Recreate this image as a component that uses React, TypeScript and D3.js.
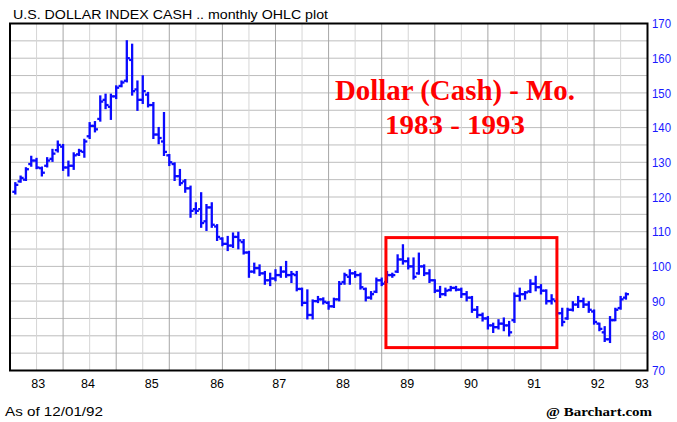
import React from 'react';
import * as d3 from 'd3';

// Monthly OHLC, first bar = May 1983, last bar = Dec 1992 (bar index 0..115)
const opens = [
  121.5, 124.5, 125, 129.5, 130.5, 128.3, 129, 131, 133.5, 134.5, 128.5, 129,
  132.3, 133, 137.5, 140.5, 142.5, 148, 146, 149, 152, 153.5, 159.5, 151,
  148, 149.5, 146.5, 138, 136, 132, 129.5, 126, 124.5, 122.5, 116.5, 116.5,
  113, 117, 111.5, 108, 106.5, 106, 108.5, 107, 104, 98.5, 99.5, 98,
  96, 96.5, 97.5, 98.5, 97.5, 97.5, 93.5, 89.5, 86, 90, 90.5, 89.5,
  88.5, 90.5, 95.5, 97, 98, 97.5, 93.5, 91, 92.7, 96, 95.5, 97.5,
  98.5, 102, 101.5, 100, 98, 100, 98, 96, 93, 92, 93.2, 93.8,
  93.3, 92, 91, 87.5, 86, 85, 83, 82.5, 83.5, 83, 84.5, 91.5,
  92, 92.8, 95, 94, 93, 90, 90, 86.5, 85, 87.5, 89, 90,
  89, 87, 83.5, 81, 79, 84.5, 88, 91,
];
const highs = [
  124, 125.9, 128.3, 131.6, 131, 128.5, 131.2, 133.6, 136, 135, 130.2, 132.6,
  133.6, 136.5, 141.3, 141.6, 149, 149.5, 149.5, 151.9, 153.3, 164.9, 163.9, 153.3,
  154.8, 150, 147.1, 139.9, 144.2, 132.1, 129.7, 127.8, 124.9, 123, 118.2, 121.1,
  117.7, 118.2, 111.9, 108.1, 108.5, 109.5, 109.7, 107.6, 104.2, 100.8, 100.3, 98.4,
  97.9, 98.9, 99.8, 101.3, 98.4, 98.4, 93.6, 93.1, 90.2, 91.2, 90.8, 89.7,
  90.7, 95.5, 97.9, 98.9, 98.4, 97.9, 93.6, 92.6, 96.5, 96.5, 98.4, 97.9,
  103.2, 106.1, 102.3, 102.3, 103.7, 100.3, 98.9, 96, 94.1, 93.6, 94.1, 94.1,
  93.6, 92.6, 91.2, 88.3, 86.4, 85.4, 83.5, 84.5, 85, 84, 92.2, 93.6,
  92.6, 96, 97, 94.6, 93.1, 91.7, 90.2, 87.8, 87.8, 89.7, 91.2, 90.7,
  89.7, 87.3, 83.5, 82.5, 85.4, 87.8, 91.2, 92.2,
];
const lows = [
  121, 124.4, 124.9, 129, 128.3, 126.2, 128.8, 130.4, 133.1, 127.8, 126.2, 128.1,
  132.1, 131.6, 137, 138.9, 142, 145.6, 142.5, 148.5, 151.9, 153.3, 149.5, 145.1,
  147.1, 146.1, 137, 135.5, 132.1, 129.2, 124.9, 123.5, 121.5, 114.3, 115.3, 111.4,
  110.5, 111.4, 107.6, 106.1, 104.7, 105.6, 105.2, 103.7, 97, 98.2, 97.5, 95,
  94.6, 96, 97, 97, 95.5, 93.1, 88.8, 85, 85, 89.7, 89.3, 87.8,
  88.3, 90.2, 95, 95, 97, 93.6, 90.2, 90.7, 92.6, 94.6, 95.5, 97,
  98.4, 100.8, 99.4, 96.5, 97.9, 97.5, 95.5, 92.6, 91.2, 91.7, 93.1, 93.1,
  91.2, 90.2, 86.9, 85.4, 84.4, 82.1, 81.1, 82.1, 81.6, 80.1, 84, 90.2,
  90.7, 92.6, 93.1, 92.2, 89.3, 89.3, 85.9, 83, 84.9, 87.3, 88.3, 88.3,
  86.9, 83.5, 81.6, 78.5, 78.2, 84.5, 87.8, 90.7,
];
const closes = [
  123.5, 125.5, 128, 130.5, 128.5, 127, 130.5, 132.5, 135, 128.5, 129, 132,
  133.3, 136, 140.5, 139.5, 147.5, 146.5, 149, 151.5, 153, 160, 150.5, 148,
  150.5, 146.5, 138, 137, 133, 130, 126, 124, 122.5, 116, 116, 112.5,
  117, 112, 108.5, 106.5, 106, 108.5, 107.5, 104, 98.5, 99.5, 98, 96,
  96.5, 97.5, 98.5, 97.5, 97.8, 93.5, 89.5, 86, 90, 90.5, 89.8, 88.5,
  90.5, 95, 97.5, 98, 97.5, 94, 91, 92, 96, 95, 97.5, 97.5,
  102, 101.5, 100, 97, 100, 98, 96, 93, 92, 93, 93.8, 93.3,
  92, 91, 87.5, 86, 85, 83, 82.5, 83.5, 83, 81, 91.5, 92,
  92.5, 95, 94, 93, 90, 90.5, 86.5, 84, 87.5, 89, 90, 89,
  87.5, 84, 82, 79, 84.5, 87.5, 90.5, 92,
];

// year labels, placed at bar index (mid-year)
const yearLabels = ['83', '84', '85', '86', '87', '88', '89', '90', '91', '92', '93'];
const yearLabelBars = [4.3, 13.7, 25.7, 38, 49.7, 61.7, 73.8, 85.8, 97.7, 109.7, 118];

const priceTicks = [70, 80, 90, 100, 110, 120, 130, 140, 150, 160, 170];

// highlighted range (bar index / price)
const boxBars = [69.8, 102];
const boxPrices = [76.6, 108.3];

const W = 677;
const H = 422;
const plot = { left: 10, right: 647.5, top: 23.5, bottom: 370.5 };
const BLUE = '#0a0aff';
const RED = '#ff0000';

const App: React.FC = () => {
  const x = d3.scaleLinear().domain([-1, 119.06]).range([plot.left, plot.right]);
  const y = d3.scaleLinear().domain([70, 170]).range([plot.bottom, plot.top]);

  const hGrid = d3.range(75, 170, 5);
  const vGrid = d3.range(4, 119, 5);
  const tick = 3;

  return (
    <svg width={W} height={H} style={{ position: 'absolute', left: 0, top: 0, background: '#fff' }}>
      <rect x={0} y={0} width={W} height={H} fill="#fff" />

      {/* grid */}
      {hGrid.map(v => (
        <line key={'h' + v} x1={plot.left} x2={plot.right} y1={y(v)} y2={y(v)} stroke="#bdbdbd" strokeWidth={1} />
      ))}
      {vGrid.map(i => (
        <line
          key={'v' + i}
          x1={x(i)}
          x2={x(i)}
          y1={plot.top}
          y2={plot.bottom}
          stroke={(i + 1) % 10 === 0 ? '#a6a6a6' : '#d6d6d6'}
          strokeWidth={1}
        />
      ))}

      {/* OHLC bars */}
      <g stroke={BLUE} strokeWidth={2.3} fill="none">
        {highs.map((h, i) => {
          const cx = x(i);
          return (
            <g key={i}>
              <line x1={cx} x2={cx} y1={y(h) - 1} y2={y(lows[i]) + 1} />
              <line x1={cx - tick} x2={cx} y1={y(opens[i])} y2={y(opens[i])} />
              <line x1={cx} x2={cx + tick} y1={y(closes[i])} y2={y(closes[i])} />
            </g>
          );
        })}
      </g>

      {/* highlight box */}
      <rect
        x={x(boxBars[0])}
        y={y(boxPrices[1])}
        width={x(boxBars[1]) - x(boxBars[0])}
        height={y(boxPrices[0]) - y(boxPrices[1])}
        fill="none"
        stroke={RED}
        strokeWidth={3}
      />

      {/* annotation */}
      <text x={455} y={100} textAnchor="middle" fill={RED} fontFamily="Liberation Serif" fontWeight="bold" fontSize={29} textLength={240} lengthAdjust="spacingAndGlyphs">
        Dollar (Cash) - Mo.
      </text>
      <text x={455} y={134} textAnchor="middle" fill={RED} fontFamily="Liberation Serif" fontWeight="bold" fontSize={28} textLength={140} lengthAdjust="spacingAndGlyphs">
        1983 - 1993
      </text>

      {/* frame */}
      <rect x={plot.left} y={plot.top} width={plot.right - plot.left} height={plot.bottom - plot.top} fill="none" stroke="#000" strokeWidth={2} />

      {/* title */}
      <text x={13} y={19} fontFamily="Liberation Sans" fontSize={13} fill="#000" textLength={315} lengthAdjust="spacingAndGlyphs">
        U.S. DOLLAR INDEX CASH .. monthly OHLC plot
      </text>

      {/* right axis */}
      {priceTicks.map(v => (
        <text key={'p' + v} x={652} y={y(v)} dy="0.36em" fontFamily="Liberation Sans" fontSize={13} fill="#1a1aff" textLength={v >= 100 ? 19 : 13} lengthAdjust="spacingAndGlyphs">
          {v}
        </text>
      ))}

      {/* bottom axis */}
      {yearLabels.map((lab, k) => (
        <text key={lab} x={x(yearLabelBars[k])} y={388} textAnchor="middle" fontFamily="Liberation Sans" fontSize={12.5} fill="#000">
          {lab}
        </text>
      ))}

      <text x={5} y={416} fontFamily="Liberation Sans" fontSize={12.5} fill="#000" textLength={98} lengthAdjust="spacingAndGlyphs">
        As of 12/01/92
      </text>
      <text x={652} y={416} textAnchor="end" fontFamily="Liberation Serif" fontWeight="bold" fontSize={13} fill="#000" textLength={106} lengthAdjust="spacingAndGlyphs">
        @ Barchart.com
      </text>
    </svg>
  );
};

export default App;
